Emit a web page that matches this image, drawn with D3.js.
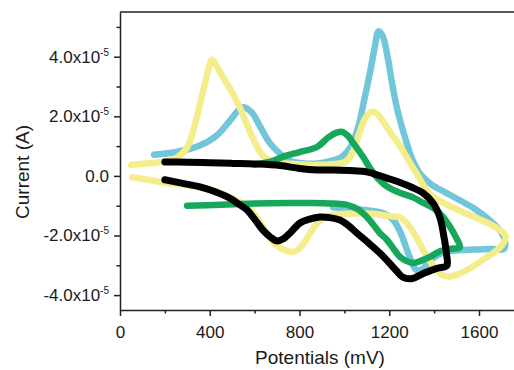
<!DOCTYPE html>
<html>
<head>
<meta charset="utf-8">
<script src="https://cdn.jsdelivr.net/npm/d3@7"></script>
<style>
body { margin: 0; background: #fff; }
text { font-family: "Liberation Sans", Arial, sans-serif; fill: #1a1a1a; }
</style>
</head>
<body>
<div id="chart"></div>
<script>
// potentials in mV, current in units of 1e-5 A
var xTicks = [0, 400, 800, 1200, 1600],
    xMinor = [200, 600, 1000, 1400],
    yTicks = [-4, -2, 0, 2, 4],
    yMinor = [-3, -1, 1, 3, 5];

var cyanX = [152, 250, 350, 430, 490, 545, 585, 625, 668, 720, 760, 820, 880, 940, 990, 1030, 1060, 1090, 1115, 1135, 1152, 1170, 1190, 1215, 1240, 1270, 1300, 1340, 1390, 1450, 1510, 1580, 1650, 1700, 1716, 1712, 1650, 1580, 1500, 1430, 1380, 1345, 1320, 1290, 1250, 1215, 1170, 1100, 1020, 950];
var cyanY = [0.71, 0.8, 1.0, 1.35, 1.85, 2.3, 2.15, 1.65, 1.1, 0.7, 0.5, 0.42, 0.42, 0.5, 0.65, 1.0, 1.6, 2.6, 3.5, 4.3, 4.85, 4.7, 4.1, 3.0, 2.1, 1.3, 0.6, 0.05, -0.3, -0.55, -0.8, -1.1, -1.5, -1.9, -2.2, -2.45, -2.45, -2.47, -2.5, -2.6, -2.85, -3.15, -3.15, -2.7, -1.9, -1.45, -1.25, -1.15, -1.1, -1.05];

var yellowX = [50, 120, 190, 250, 300, 340, 375, 395, 410, 430, 460, 500, 540, 590, 640, 700, 780, 880, 960, 1010, 1040, 1065, 1090, 1110, 1128, 1150, 1175, 1210, 1240, 1280, 1320, 1380, 1440, 1510, 1580, 1645, 1690, 1718,
               1705, 1670, 1620, 1560, 1500, 1462, 1430, 1405, 1375, 1345, 1320, 1290, 1250, 1200, 1140, 1080, 1010, 950, 910, 878, 850, 820, 790, 770, 745, 713, 680, 640, 600, 550, 500, 420, 350, 270, 190, 120, 55];
var yellowY = [0.37, 0.42, 0.47, 0.6, 0.97, 1.9, 3.0, 3.6, 3.9, 3.7, 3.3, 2.8, 2.2, 1.3, 0.65, 0.45, 0.4, 0.37, 0.4, 0.5, 0.85, 1.4, 1.9, 2.1, 2.15, 2.05, 1.8, 1.4, 1.1, 0.6, 0.1, -0.6, -0.9, -1.15, -1.38, -1.6, -1.8, -2.0,
               -2.3, -2.55, -2.8, -3.1, -3.32, -3.38, -3.3, -3.1, -2.8, -2.4, -2.05, -1.7, -1.4, -1.35, -1.28, -1.25, -1.27, -1.32, -1.42, -1.6, -1.9, -2.25, -2.5, -2.55, -2.52, -2.42, -2.2, -1.75, -1.3, -0.95, -0.75, -0.5, -0.38, -0.28, -0.22, -0.12, -0.05];

var greenX = [600, 680, 726, 800, 878, 930, 965, 990, 1015, 1040, 1083, 1115, 1145, 1180, 1217, 1260, 1306, 1350, 1400, 1440, 1470, 1500, 1515,
              1470, 1420, 1381, 1340, 1306, 1275, 1248, 1220, 1190, 1158, 1130, 1100, 1060, 1011, 950, 850, 758, 600, 450, 299];
var greenY = [0.38, 0.5, 0.64, 0.8, 0.97, 1.3, 1.45, 1.48, 1.35, 1.1, 0.64, 0.25, -0.05, -0.3, -0.47, -0.6, -0.72, -0.9, -1.1, -1.38, -1.7, -2.1, -2.39,
              -2.45, -2.55, -2.72, -2.85, -2.92, -2.85, -2.72, -2.45, -2.15, -1.92, -1.65, -1.38, -1.12, -0.97, -0.93, -0.91, -0.91, -0.93, -0.97, -1.0];

var blackX = [200, 300, 400, 500, 600, 713, 800, 878, 950, 1025, 1090, 1128, 1180, 1248, 1300, 1350, 1395, 1426, 1445, 1455, 1458,
              1448, 1413, 1350, 1300, 1260, 1234, 1200, 1158, 1100, 1056, 1010, 980, 935, 891, 845, 802, 760, 730, 700, 670, 637, 600, 566, 530, 490, 430, 357, 280, 200];
var blackY = [0.47, 0.46, 0.44, 0.42, 0.4, 0.35, 0.25, 0.2, 0.2, 0.18, 0.15, 0.08, -0.05, -0.22, -0.38, -0.57, -0.91, -1.4, -2.1, -2.6, -3.0,
              -3.05, -3.1, -3.28, -3.45, -3.4, -3.2, -2.92, -2.59, -2.2, -1.92, -1.62, -1.48, -1.4, -1.38, -1.45, -1.58, -1.9, -2.1, -2.18, -2.05, -1.82, -1.45, -1.14, -0.95, -0.75, -0.55, -0.37, -0.25, -0.13];

var series = [
  {xs: cyanX, ys: cyanY, color: "#72c6da", w: 6.5},
  {xs: yellowX, ys: yellowY, color: "#f5ec8c", w: 6.5},
  {xs: greenX, ys: greenY, color: "#17a75a", w: 6.5},
  {xs: blackX, ys: blackY, color: "#000000", w: 7}
];

var margin = {top: 12, right: 0, bottom: 60, left: 120},
    width = 514 - margin.left - margin.right,
    height = 370 - margin.top - margin.bottom;

var svg = d3.select("#chart")
  .append("svg")
  .attr("width", width + margin.left + margin.right)
  .attr("height", height + margin.top + margin.bottom)
  .append("g")
  .attr("transform", "translate(" + margin.left + "," + margin.top + ")");

var x = d3.scaleLinear().domain([0, 1756]).range([0, width]);
var y = d3.scaleLinear().domain([-4.5, 5.5]).range([height, 0]);

// curves
var line = d3.line()
  .x(function(d) { return x(d[0]); })
  .y(function(d) { return y(d[1]); })
  .curve(d3.curveCatmullRom.alpha(0.5));

series.forEach(function(s) {
  var pts = s.xs.map(function(v, i) { return [v, s.ys[i]]; });
  svg.append("path")
    .datum(pts)
    .attr("d", line)
    .attr("fill", "none")
    .attr("stroke", s.color)
    .attr("stroke-width", s.w)
    .attr("stroke-linecap", "round")
    .attr("stroke-linejoin", "round");
});

// top frame line
svg.append("line")
  .attr("x1", 0).attr("x2", width)
  .attr("y1", 0).attr("y2", 0)
  .attr("stroke", "#222").attr("stroke-width", 1.5);

// X axis
var gx = svg.append("g")
  .attr("transform", "translate(0," + height + ")")
  .call(d3.axisBottom(x).tickValues(xTicks).tickSize(6).tickSizeOuter(0).tickPadding(10).tickFormat(d3.format("d")));
svg.append("g")
  .attr("transform", "translate(0," + height + ")")
  .call(d3.axisBottom(x).tickValues(xMinor).tickSize(3.5).tickFormat(""))
  .select(".domain").remove();

// Y axis
var gy = svg.append("g")
  .call(d3.axisLeft(y).tickValues(yTicks).tickSize(6).tickSizeOuter(0).tickPadding(5).tickFormat(""));
svg.append("g")
  .call(d3.axisLeft(y).tickValues(yMinor).tickSize(3.5).tickFormat(""))
  .select(".domain").remove();

gy.selectAll(".tick text").each(function(d) {
  var t = d3.select(this);
  if (d === 0) { t.text("0.0"); return; }
  t.append("tspan").text(d.toFixed(1) + "x10");
  t.append("tspan").attr("font-size", "10px").attr("dy", "-7").text("-5");
});

svg.selectAll(".domain").attr("stroke", "#222").attr("stroke-width", 1.5);
svg.selectAll(".tick line").attr("stroke", "#222").attr("stroke-width", 1.5);
svg.selectAll(".tick text").style("font-size", "17px").attr("fill", "#1a1a1a");

// axis titles
svg.append("text")
  .attr("x", width / 2 + 3)
  .attr("y", height + 54)
  .attr("text-anchor", "middle")
  .style("font-size", "19px")
  .text("Potentials (mV)");

svg.append("text")
  .attr("transform", "rotate(-90)")
  .attr("x", -160)
  .attr("y", -91)
  .attr("text-anchor", "middle")
  .style("font-size", "19px")
  .text("Current (A)");
</script>
</body>
</html>
